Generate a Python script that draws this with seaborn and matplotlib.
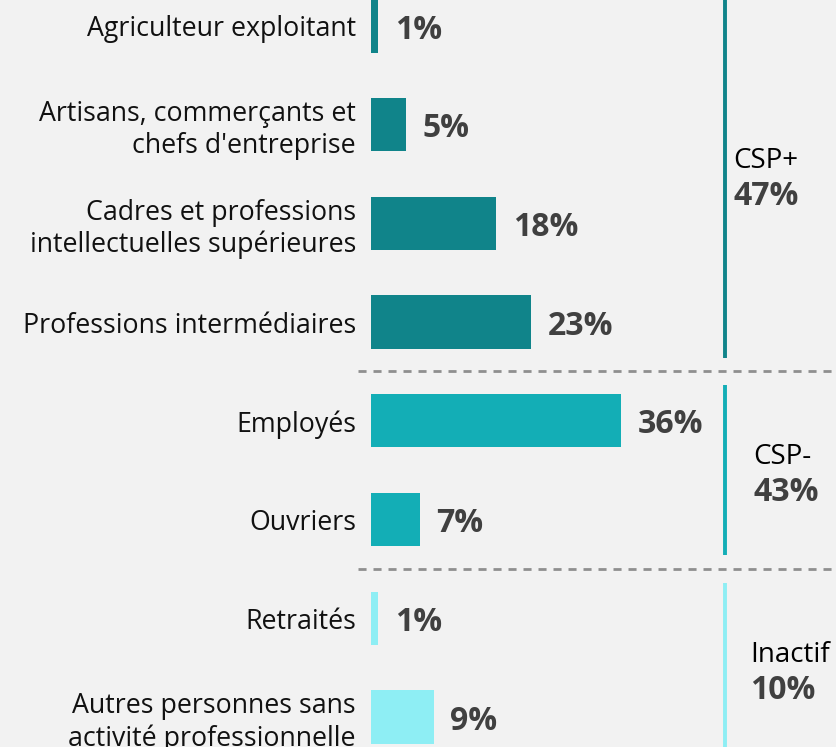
import pandas as pd
import matplotlib.pyplot as plt
import matplotlib.transforms as mtransforms
import seaborn as sns

categories = [
    "Agriculteur exploitant",
    "Artisans, commerçants et\nchefs d'entreprise",
    "Cadres et professions\nintellectuelles supérieures",
    "Professions intermédiaires",
    "Employés",
    "Ouvriers",
    "Retraités",
    "Autres personnes sans\nactivité professionnelle",
]
values = [1, 5, 18, 23, 36, 7, 1, 9]
groups = ["CSP+", "CSP+", "CSP+", "CSP+", "CSP-", "CSP-", "Inactif", "Inactif"]
group_names = ["CSP+", "CSP-", "Inactif"]
group_colors = {"CSP+": "#10848A", "CSP-": "#13AEB6", "Inactif": "#8EEEF4"}

df = pd.DataFrame({"categorie": categories, "valeur": values, "groupe": groups})
totals = df.groupby("groupe", sort=False)["valeur"].sum()

bg = "#F2F2F2"
sns.set_style("white")
plt.rcParams["font.family"] = ["Open Sans", "DejaVu Sans"]

fig = plt.figure(figsize=(8.37, 7.47), dpi=100, facecolor=bg)
ax = fig.add_axes([371 / 837, 0, 1 - 371 / 837, 1])
ax.set_facecolor(bg)

sns.barplot(data=df, y="categorie", x="valeur", hue="groupe", palette=group_colors,
            dodge=False, width=0.54, legend=False, orient="h", saturation=1,
            linewidth=0, ax=ax)

ax.set_xlim(0, 67.05)
ax.set_ylim(7.305, -0.263)
ax.set_xlabel("")
ax.set_ylabel("")
ax.set_xticks([])
sns.despine(ax=ax, left=True, bottom=True)
ax.tick_params(axis="y", length=0, pad=10.8)
for lab in ax.get_yticklabels():
    lab.set_fontsize(19.3)
    lab.set_color("#111111")
    lab.set_linespacing(1.2)

# value labels
for i, v in enumerate(values):
    ax.annotate(f"{v}%", xy=(v, i), xytext=(12, -3), textcoords="offset points",
                ha="left", va="center", fontsize=23, fontweight="bold", color="#404040")

# dashed separators between groups
trans = mtransforms.blended_transform_factory(ax.transAxes, ax.transData)
bounds = []
start = 0
for g in group_names:
    n = groups.count(g)
    bounds.append((start, start + n - 1))
    start += n
for first, last in bounds[:-1]:
    ax.plot([-0.028, 1], [last + 0.5, last + 0.5], transform=trans, color="#8F8F8F",
            lw=2, linestyle=(0, (2.9, 2.5)), clip_on=False)

# group brackets and labels
label_x = [0.777, 0.820, 0.813]
for (first, last), g, lx in zip(bounds, group_names, label_x):
    ax.plot([0.76, 0.76], [first - 0.36, last + 0.36], transform=trans,
            color=group_colors[g], lw=2.8, solid_capstyle="butt")
    mid = (first + last) / 2
    ax.annotate(g, xy=(lx, mid), xycoords=trans, xytext=(0, 6), textcoords="offset pixels",
                ha="left", va="baseline", fontsize=20, color="#000000", annotation_clip=False)
    ax.annotate(f"{totals[g]}%", xy=(lx, mid), xycoords=trans, xytext=(0, -6),
                textcoords="offset pixels", ha="left", va="top", fontsize=23,
                fontweight="bold", color="#404040", annotation_clip=False)

fig.savefig("out.png", dpi=100, facecolor=bg)
